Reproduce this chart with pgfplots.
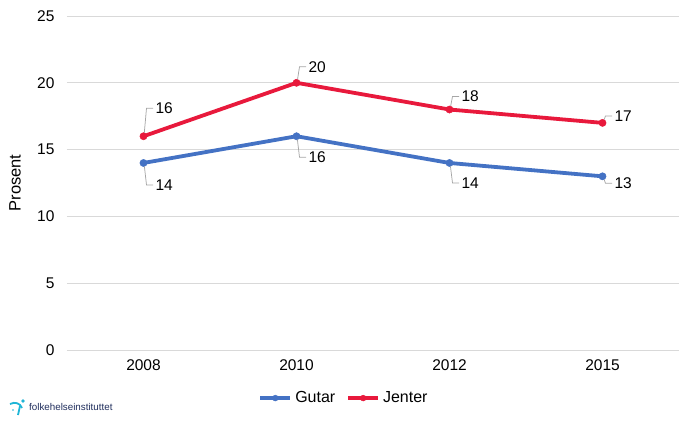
\documentclass[border=0pt]{standalone}
\usepackage{fontspec}
\setmainfont{Liberation Sans}
\usepackage{pgfplots}
\pgfplotsset{compat=1.18}

\definecolor{gutar}{HTML}{4472C4}
\definecolor{jenter}{HTML}{E8193C}
\definecolor{gridgray}{RGB}{217,217,217}
\definecolor{leader}{RGB}{166,166,166}
\definecolor{fhinavy}{HTML}{1F2D5C}
\definecolor{fhicyan}{HTML}{1FB5D6}

\begin{document}
\begin{tikzpicture}
\begin{axis}[
    scale only axis,
    width=612pt, height=334pt,
    xmin=-0.5, xmax=3.5,
    ymin=0, ymax=25,
    ytick={0,5,...,25},
    xtick={0,1,2,3},
    xticklabels={2008,2010,2012,2015},
    ymajorgrids,
    grid style={gridgray, line width=0.9pt},
    axis line style={draw=none},
    major tick length=0pt,
    tick label style={font=\fontsize{15.5}{18}\selectfont, text=black},
    yticklabel style={xshift=-9pt},
    xticklabel style={yshift=-6pt},
    /pgf/number format/assume math mode=true,
    ylabel={Prosent},
    every axis y label/.style={at={(axis description cs:-0.085,0.5)}, rotate=90, anchor=center, font=\fontsize{16.5}{19}\selectfont},
    clip=false,
    legend style={at={(0.4526,-0.144)}, anchor=center, draw=none, legend columns=-1,
        font=\fontsize{16}{19}\selectfont, inner sep=0pt,
        /tikz/every odd column/.append style={column sep=1pt},
        /tikz/every even column/.append style={column sep=9pt}},
    legend image code/.code={\draw[#1, mark repeat=2, mark phase=2, mark size=2.9pt] plot coordinates {(0pt,0pt) (15pt,0pt) (30pt,0pt)};},
    visualization depends on={value \thisrow{dy} \as \dy},
    % data label with an elbow leader line: drawn in an overlay picture whose origin is the point
    nodes near coords={\tikz[overlay, baseline=0pt]{%
        \draw[leader, line width=0.75pt, shorten <=3.5pt] (0pt,0pt) -- (2.5pt,\dy pt) -- (9pt,\dy pt);
        \node[anchor=west, inner sep=1.5pt, text=black, font=\fontsize{15.5}{18}\selectfont] at (10pt,\dy pt) {\pgfmathprintnumber{\pgfplotspointmeta}};}},
    every node near coord/.style={anchor=base west, inner sep=0pt, outer sep=0pt},
]

% Gutar
\addplot[color=gutar, line width=3.8pt, mark=*, mark size=3.6pt, mark options={line width=0.5pt}] table[x=x, y=y] {
x y dy
0 14 -22
1 16 -21
2 14 -20
3 13 -7
};
\addlegendentry{Gutar}

% Jenter
\addplot[color=jenter, line width=3.8pt, mark=*, mark size=3.6pt, mark options={line width=0.5pt}] table[x=x, y=y] {
x y dy
0 16 28
1 20 16
2 18 13
3 17 7
};
\addlegendentry{Jenter}

\end{axis}

% logo
\begin{scope}[shift={(-57pt,-57pt)}]
  \draw[fhicyan, line width=1.8pt] (0pt,3pt) .. controls (5pt,5.5pt) and (10pt,4pt) .. (12pt,-1pt);
  \draw[fhicyan, line width=1.8pt] (10pt,1pt) -- (8pt,-8pt);
  \fill[fhicyan] (13pt,6pt) circle (1.9pt);
  \fill[fhicyan] (3pt,-3pt) circle (0.8pt);
  \node[anchor=west, inner sep=0pt, text=fhinavy, font=\fontsize{9.8}{11}\selectfont] at (19pt,0pt) {folkehelseinstituttet};
\end{scope}

\pgfresetboundingbox
\useasboundingbox (-67pt,-71pt) rectangle (633pt,350pt);
\end{tikzpicture}
\end{document}
